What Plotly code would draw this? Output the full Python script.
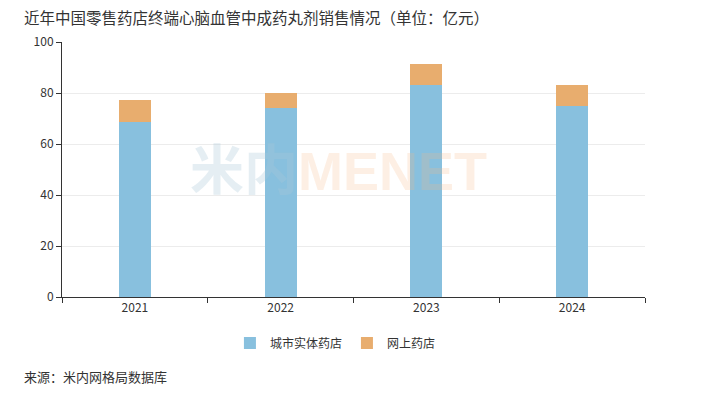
import plotly.graph_objects as go

years = ["2021", "2022", "2023", "2024"]
city_store = [68.7, 74.0, 83.1, 74.9]
online_store = [8.6, 5.9, 8.3, 8.2]
series_names = ["城市实体药店", "网上药店"]
title_text = "近年中国零售药店终端心脑血管中成药丸剂销售情况（单位：亿元）"
source_text = "来源：米内网格局数据库"

font_family = "Noto Sans CJK SC, Microsoft YaHei, sans-serif"

fig = go.Figure()
fig.add_trace(go.Bar(x=years, y=city_store, name=series_names[0],
                     marker=dict(color="#88c0de", line=dict(width=0)), width=0.22))
fig.add_trace(go.Bar(x=years, y=online_store, name=series_names[1],
                     marker=dict(color="#e8ad6e", line=dict(width=0)), width=0.22))

fig.update_layout(
    barmode="stack",
    width=710, height=399,
    margin=dict(l=62, r=65, t=42, b=102),
    paper_bgcolor="white", plot_bgcolor="white",
    font=dict(family=font_family, color="#333", size=12),
    showlegend=True,
    legend=dict(orientation="h", x=0.469, xanchor="center", y=-0.18, yanchor="middle",
                font=dict(size=12, color="#333"), itemwidth=30, traceorder="normal"),
    xaxis=dict(type="category", tickson="boundaries", ticks="outside", ticklen=5,
               tickcolor="#333", showline=True, linecolor="#333", linewidth=1,
               showgrid=False, tickfont=dict(size=12, color="#333")),
    yaxis=dict(range=[0, 100], dtick=20, ticks="outside", ticklen=5, tickcolor="#333",
               showline=True, linecolor="#333", linewidth=1,
               showgrid=True, gridcolor="#ececec", zeroline=False,
               tickfont=dict(size=12, color="#333")),
    annotations=[
        dict(text=title_text, xref="paper", yref="paper", x=-0.068, y=1.0, yanchor="bottom",
             yshift=12, xanchor="left", showarrow=False, font=dict(size=15.5, color="#333")),
        dict(text=source_text, xref="paper", yref="paper", x=-0.068, y=-0.31, xanchor="left",
             yanchor="middle", showarrow=False, font=dict(size=13, color="#333")),
        dict(text='<b><span style="color:rgba(170,200,215,0.3)">米内</span>'
                  '<span style="color:rgba(245,180,130,0.22)">MENET</span></b>',
             xref="paper", yref="paper", x=0.475, y=0.495, xanchor="center", yanchor="middle",
             showarrow=False, font=dict(size=54, family="Liberation Sans, Noto Sans CJK SC")),
    ],
)

fig.write_html("out.html")
